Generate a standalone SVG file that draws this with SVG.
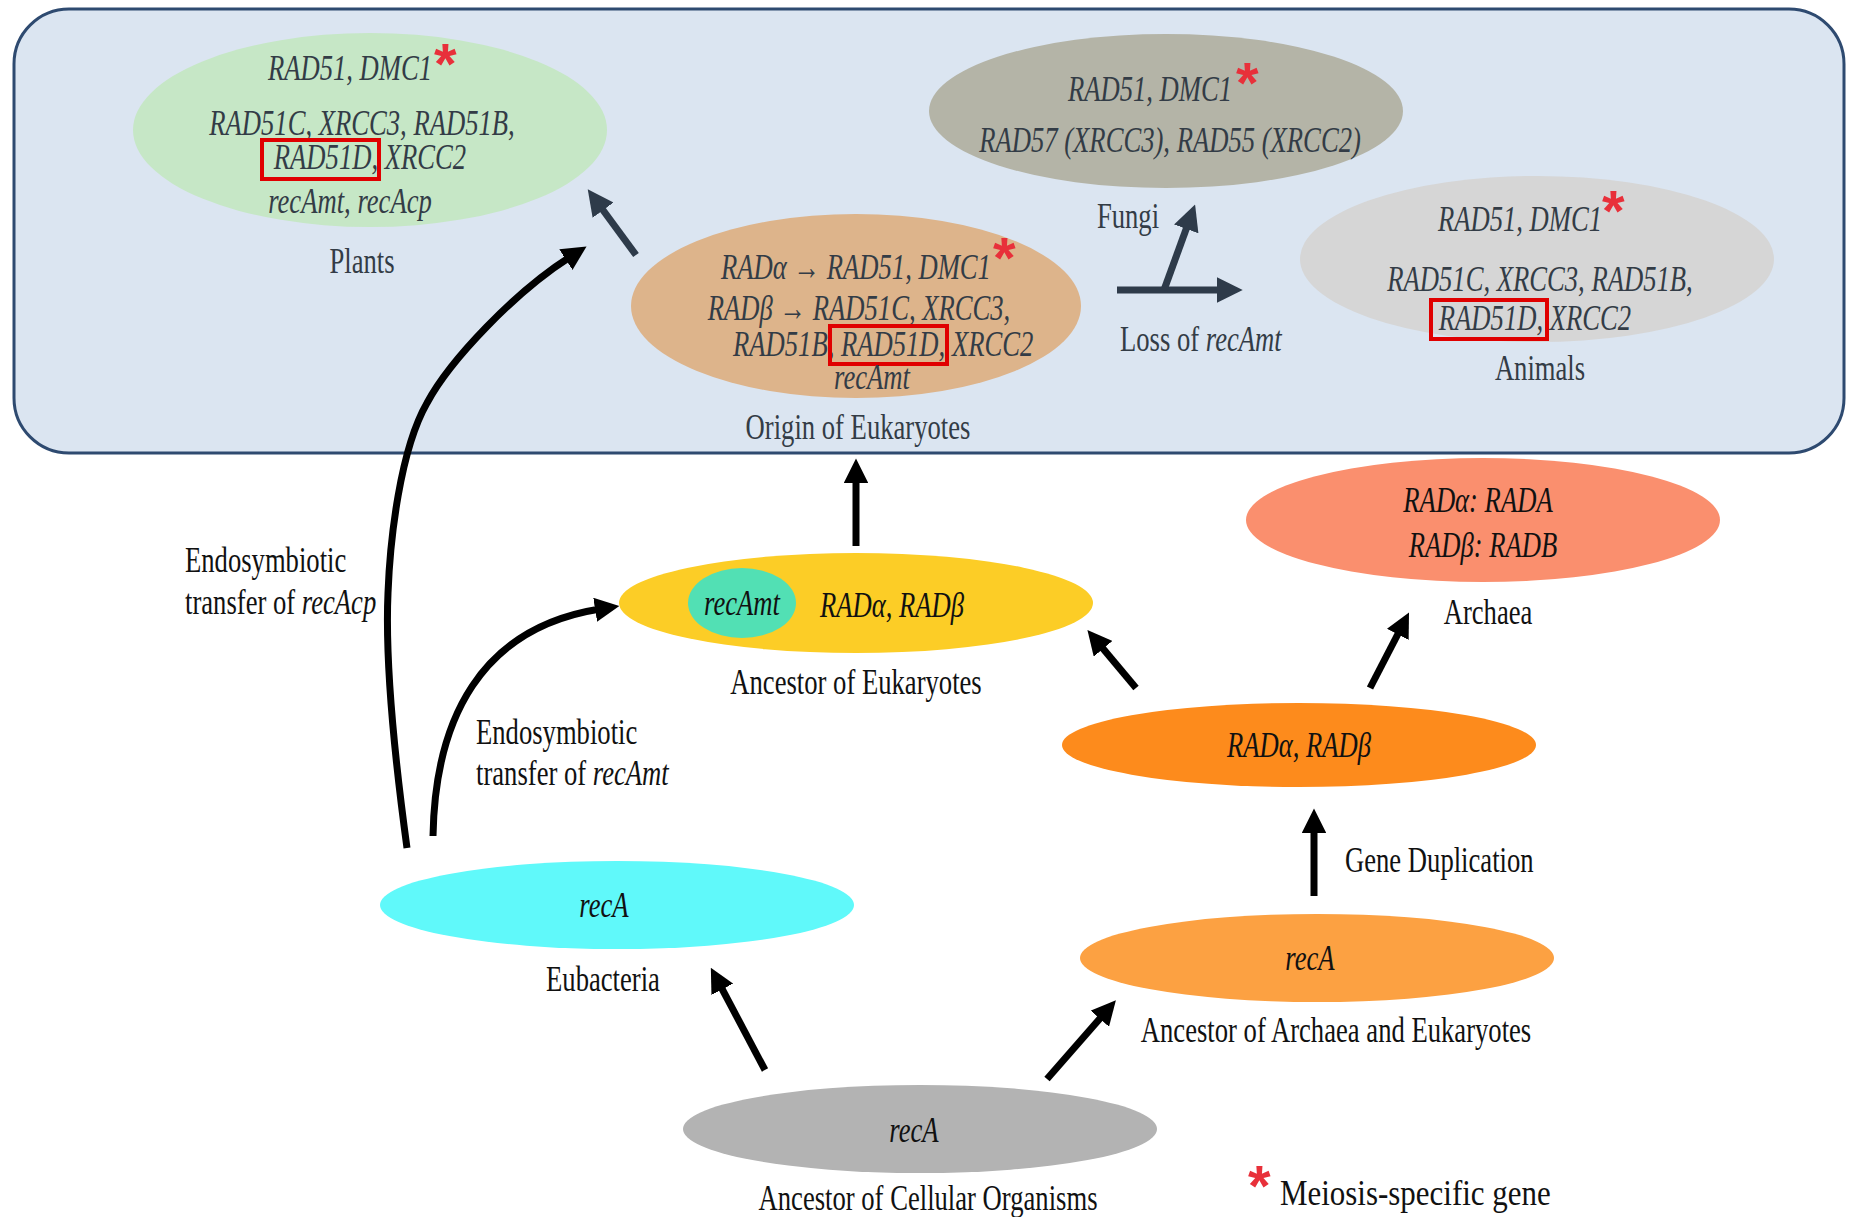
<svg xmlns="http://www.w3.org/2000/svg" width="1860" height="1217" viewBox="0 0 1860 1217">
  <style>
    text { font-family: "Liberation Serif", "Times New Roman", serif; font-size: 36px; }
    .gene { font-style: italic; }
    .dim { fill: #333c46; }
    .blk { fill: #111111; }
    .mid { text-anchor: middle; }
    .star { fill: #e8303a; font-size: 58px; font-weight: bold; font-family: "Liberation Sans", Arial, sans-serif; }
    .box { fill: none; stroke: #e00000; stroke-width: 4; }
    .edge-dark { fill: none; stroke: #2e3b4a; stroke-width: 7; }
    .edge-blk { fill: none; stroke: #000000; stroke-width: 7; }
  </style>
  <defs>
    <marker id="headDark" viewBox="0 0 10 10" refX="2" refY="5" markerWidth="3.7" markerHeight="3.7" orient="auto" markerUnits="strokeWidth">
      <path d="M0,0 L10,5 L0,10 z" fill="#2e3b4a"/>
    </marker>
    <marker id="headBlk" viewBox="0 0 10 10" refX="2" refY="5" markerWidth="3.5" markerHeight="3.5" orient="auto" markerUnits="strokeWidth">
      <path d="M0,0 L10,5 L0,10 z" fill="#000000"/>
    </marker>
  </defs>

  <rect width="1860" height="1217" fill="#ffffff"/>

  <!-- eukaryote panel -->
  <rect id="eukaryote-panel" x="14" y="9" width="1830" height="444" rx="55" ry="55" fill="#dbe5f1" stroke="#2e4a70" stroke-width="3"/>

  <!-- connectors -->
  <g id="connectors">
    <path class="edge-dark" d="M636,255 L600,206" marker-end="url(#headDark)"/>
    <path class="edge-dark" d="M1117,290 L1222,290" marker-end="url(#headDark)"/>
    <path class="edge-dark" d="M1164,290 L1188,224" marker-end="url(#headDark)"/>
    <path class="edge-blk" d="M407,848 C395,760 385,660 388,593 C390,540 400,450 427,403 C450,360 515,292 570,257" marker-end="url(#headBlk)"/>
    <path class="edge-blk" d="M433,836 C435,720 480,628 600,609" marker-end="url(#headBlk)"/>
    <path class="edge-blk" d="M856,546 L856,478" marker-end="url(#headBlk)"/>
    <path class="edge-blk" d="M1136,688 L1100,645" marker-end="url(#headBlk)"/>
    <path class="edge-blk" d="M1370,688 L1400,630" marker-end="url(#headBlk)"/>
    <path class="edge-blk" d="M1314,896 L1314,828" marker-end="url(#headBlk)"/>
    <path class="edge-blk" d="M765,1070 L720,985" marker-end="url(#headBlk)"/>
    <path class="edge-blk" d="M1047,1079 L1103,1015" marker-end="url(#headBlk)"/>
  </g>

  <!-- Plants -->
  <g id="plants">
    <ellipse cx="370" cy="130" rx="237" ry="97" fill="#c6e7c6"/>
    <text class="gene dim mid" transform="translate(350 80) scale(0.74 1)">RAD51, DMC1</text>
    <text class="star" x="434" y="84">*</text>
    <text class="gene dim mid" transform="translate(362 135) scale(0.74 1)">RAD51C, XRCC3, RAD51B,</text>
    <text class="gene dim mid" transform="translate(370 169) scale(0.74 1)">RAD51D, XRCC2</text>
    <rect class="box" x="262" y="140" width="117" height="39"/>
    <text class="gene dim mid" transform="translate(350 213) scale(0.74 1)">recAmt, recAcp</text>
    <text class="dim mid" transform="translate(362 273) scale(0.74 1)">Plants</text>
  </g>

  <!-- Fungi -->
  <g id="fungi">
    <ellipse cx="1166" cy="111" rx="237" ry="77" fill="#b4b4a7"/>
    <text class="gene dim mid" transform="translate(1150 101) scale(0.74 1)">RAD51, DMC1</text>
    <text class="star" x="1236" y="103">*</text>
    <text class="gene dim mid" transform="translate(1170 152) scale(0.74 1)">RAD57 (XRCC3), RAD55 (XRCC2)</text>
    <text class="dim mid" transform="translate(1128 228) scale(0.74 1)">Fungi</text>
  </g>

  <!-- Origin of Eukaryotes -->
  <g id="origin-eukaryotes">
    <ellipse cx="856" cy="306" rx="225" ry="92" fill="#ddb48b"/>
    <text class="gene dim mid" transform="translate(856 279) scale(0.74 1)">RADα → RAD51, DMC1</text>
    <text class="star" x="993" y="278">*</text>
    <text class="gene dim mid" transform="translate(859 320) scale(0.74 1)">RADβ → RAD51C, XRCC3,</text>
    <text class="gene dim" transform="translate(733 356) scale(0.74 1)">RAD51B, RAD51D, XRCC2</text>
    <rect class="box" x="830" y="326" width="117" height="38"/>
    <text class="gene dim mid" transform="translate(872 389) scale(0.74 1)">recAmt</text>
    <text class="dim mid" transform="translate(858 439) scale(0.74 1)">Origin of Eukaryotes</text>
  </g>

  <!-- Animals -->
  <g id="animals">
    <ellipse cx="1537" cy="259" rx="237" ry="83" fill="#d6d6d6"/>
    <text class="gene dim mid" transform="translate(1520 231) scale(0.74 1)">RAD51, DMC1</text>
    <text class="star" x="1602" y="231">*</text>
    <text class="gene dim mid" transform="translate(1540 291) scale(0.74 1)">RAD51C, XRCC3, RAD51B,</text>
    <text class="gene dim mid" transform="translate(1535 330) scale(0.74 1)">RAD51D, XRCC2</text>
    <rect class="box" x="1431" y="300" width="116" height="39"/>
    <text class="dim mid" transform="translate(1540 380) scale(0.74 1)">Animals</text>
  </g>

  <!-- loss label -->
  <g id="loss-label">
    <text class="dim" transform="translate(1120 351) scale(0.74 1)">Loss of <tspan class="gene">recAmt</tspan></text>
  </g>

  <!-- Archaea -->
  <g id="archaea">
    <ellipse cx="1483" cy="520" rx="237" ry="62" fill="#fa8f6e"/>
    <text class="gene blk mid" transform="translate(1478 512) scale(0.74 1)">RADα: RADA</text>
    <text class="gene blk mid" transform="translate(1483 557) scale(0.74 1)">RADβ: RADB</text>
    <text class="blk mid" transform="translate(1488 624) scale(0.74 1)">Archaea</text>
  </g>

  <!-- Ancestor of Eukaryotes -->
  <g id="ancestor-eukaryotes">
    <ellipse cx="856" cy="603" rx="237" ry="50" fill="#fccd26"/>
    <ellipse cx="742" cy="603" rx="54" ry="35" fill="#52e0b4"/>
    <text class="gene blk mid" transform="translate(742 615) scale(0.74 1)">recAmt</text>
    <text class="gene blk mid" transform="translate(892 617) scale(0.74 1)">RADα,  RADβ</text>
    <text class="blk mid" transform="translate(856 694) scale(0.74 1)">Ancestor of Eukaryotes</text>
  </g>

  <!-- endosymbiosis labels -->
  <g id="endo-labels">
    <text class="blk" transform="translate(185 572) scale(0.74 1)">Endosymbiotic</text>
    <text class="blk" transform="translate(185 614) scale(0.74 1)">transfer of <tspan class="gene">recAcp</tspan></text>
    <text class="blk" transform="translate(476 744) scale(0.74 1)">Endosymbiotic</text>
    <text class="blk" transform="translate(476 785) scale(0.74 1)">transfer of <tspan class="gene">recAmt</tspan></text>
  </g>

  <!-- RADα, RADβ duplicate -->
  <g id="duplicated">
    <ellipse cx="1299" cy="745" rx="237" ry="42" fill="#fd8b1c"/>
    <text class="gene blk mid" transform="translate(1299 757) scale(0.74 1)">RADα,  RADβ</text>
  </g>

  <g id="gene-duplication-label">
    <text class="blk" transform="translate(1345 872) scale(0.74 1)">Gene Duplication</text>
  </g>

  <!-- Eubacteria -->
  <g id="eubacteria">
    <ellipse cx="617" cy="905" rx="237" ry="44" fill="#60f9fa"/>
    <text class="gene blk mid" transform="translate(604 917) scale(0.74 1)">recA</text>
    <text class="blk mid" transform="translate(603 991) scale(0.74 1)">Eubacteria</text>
  </g>

  <!-- Ancestor of Archaea and Eukaryotes -->
  <g id="ancestor-archaea-eukaryotes">
    <ellipse cx="1317" cy="958" rx="237" ry="44" fill="#fca142"/>
    <text class="gene blk mid" transform="translate(1310 970) scale(0.74 1)">recA</text>
    <text class="blk mid" transform="translate(1336 1042) scale(0.74 1)">Ancestor of Archaea and Eukaryotes</text>
  </g>

  <!-- Ancestor of Cellular Organisms -->
  <g id="ancestor-cellular">
    <ellipse cx="920" cy="1129" rx="237" ry="44" fill="#b3b3b3"/>
    <text class="gene blk mid" transform="translate(914 1142) scale(0.74 1)">recA</text>
    <text class="blk mid" transform="translate(928 1210) scale(0.74 1)">Ancestor of Cellular Organisms</text>
  </g>

  <!-- legend -->
  <g id="legend">
    <text class="star" x="1248" y="1206">*</text>
    <text class="blk" transform="translate(1280 1205) scale(0.86 1)">Meiosis-specific gene</text>
  </g>
</svg>
